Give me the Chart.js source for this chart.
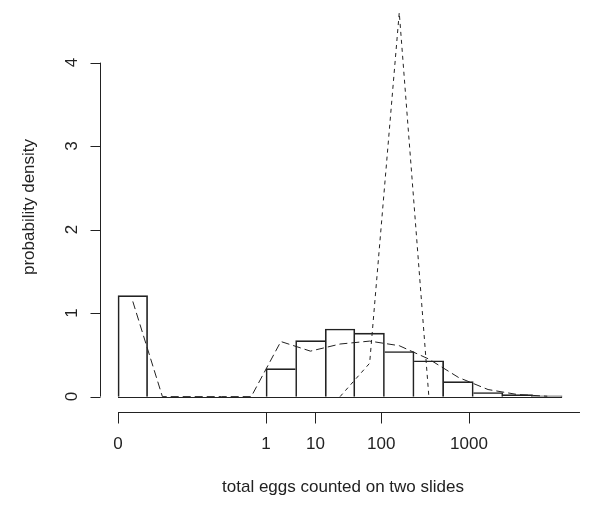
<!DOCTYPE html>
<html>
<head>
<meta charset="utf-8">
<script src="https://cdn.jsdelivr.net/npm/chart.js@4.4.1/dist/chart.umd.min.js"></script>
<style>
  html, body { margin: 0; padding: 0; background: #fff; }
  canvas { display: block; }
</style>
</head>
<body>
<canvas id="eggChart" width="600" height="510"></canvas>
<script>
// x positions are on the transformed scale count^(1/8)
const binStart = [0, 0.2, 0.4, 0.6, 0.8, 1.0, 1.2, 1.4, 1.6, 1.8, 2.0, 2.2, 2.4, 2.6, 2.8];
const binMid = [0.1, 0.3, 0.5, 0.7, 0.9, 1.1, 1.3, 1.5, 1.7, 1.9, 2.1, 2.3, 2.5, 2.7, 2.9];
const binWidth = 0.2;
const density = [1.21, 0, 0, 0, 0, 0.335, 0.67, 0.81, 0.76, 0.54, 0.43, 0.18, 0.05, 0.025, 0.01];

// long dashed curve, evaluated at the bin mids
const longDash = [1.14, 0, 0, 0, 0, 0.66, 0.545, 0.63, 0.665, 0.61, 0.45, 0.23, 0.085, 0.025, 0.005];

// short dashed spike
const shortX = [1.5, 1.7, 1.9, 2.1];
const shortY = [0, 0.40, 4.6, 0];

// axes
const xTickCounts = [0, 1, 10, 100, 1000];
const xAxisEndCount = 9000;
const yTicks = [0, 1, 2, 3, 4];
const xTitle = 'total eggs counted on two slides';
const yTitle = 'probability density';

const ink = '#222';
const fontFamily = '"Liberation Sans", Arial, Helvetica, sans-serif';

function toX(count) {
    return Math.pow(count, 1 / 8);
}

// R style axes, drawn off the chart area like base graphics
const rAxes = {
    id: 'rAxes',
    beforeDatasetsDraw(chart) {
        const { ctx, scales: { x, y } } = chart;
        // histogram baseline (zero-height bins are drawn as a line)
        ctx.save();
        ctx.strokeStyle = ink;
        ctx.lineWidth = 1;
        ctx.beginPath();
        const y0 = Math.round(y.getPixelForValue(0)) + 0.5;
        ctx.moveTo(x.getPixelForValue(binStart[0]), y0);
        ctx.lineTo(x.getPixelForValue(binStart[binStart.length - 1] + binWidth), y0);
        ctx.stroke();
        ctx.restore();
    },
    afterDraw(chart) {
        const { ctx, chartArea, scales: { x, y } } = chart;
        ctx.save();
        ctx.strokeStyle = ink;
        ctx.fillStyle = ink;
        ctx.lineWidth = 1;
        ctx.font = '17px ' + fontFamily;

        // y axis
        const ax = Math.round(chartArea.left) + 0.5;
        ctx.beginPath();
        ctx.moveTo(ax, y.getPixelForValue(yTicks[0]));
        ctx.lineTo(ax, y.getPixelForValue(yTicks[yTicks.length - 1]));
        yTicks.forEach(t => {
            const py = Math.round(y.getPixelForValue(t)) + 0.5;
            ctx.moveTo(ax, py);
            ctx.lineTo(ax - 10, py);
        });
        ctx.stroke();
        ctx.textAlign = 'center';
        ctx.textBaseline = 'middle';
        yTicks.forEach(t => {
            ctx.save();
            ctx.translate(ax - 29, y.getPixelForValue(t));
            ctx.rotate(-Math.PI / 2);
            ctx.fillText(String(t), 0, 1);
            ctx.restore();
        });
        ctx.save();
        ctx.translate(29, (chartArea.top + chartArea.bottom) / 2 + 1);
        ctx.rotate(-Math.PI / 2);
        ctx.fillText(yTitle, 0, 0);
        ctx.restore();

        // x axis
        const ay = Math.round(chartArea.bottom) + 0.5;
        ctx.beginPath();
        ctx.moveTo(x.getPixelForValue(toX(xTickCounts[0])), ay);
        ctx.lineTo(x.getPixelForValue(toX(xAxisEndCount)), ay);
        xTickCounts.forEach(c => {
            const px = Math.round(x.getPixelForValue(toX(c))) + 0.5;
            ctx.moveTo(px, ay);
            ctx.lineTo(px, ay + 11);
        });
        ctx.stroke();
        xTickCounts.forEach(c => {
            ctx.fillText(String(c), x.getPixelForValue(toX(c)), ay + 32);
        });
        ctx.fillText(xTitle, (chartArea.left + chartArea.right) / 2, ay + 75);
        ctx.restore();
    }
};

const ctx = document.getElementById('eggChart').getContext('2d');
const eggChart = new Chart(ctx, {
    type: 'bar',
    data: {
        datasets: [{
            type: 'bar',
            label: 'histogram',
            data: binMid.map((m, i) => ({ x: m, y: density[i] })),
            backgroundColor: 'rgba(0,0,0,0)',
            borderColor: ink,
            // share the edge between neighbouring bars so it stays 1px
            borderWidth: (c) => {
                const i = c.dataIndex;
                const h = density[i];
                const prev = i > 0 ? density[i - 1] : 0;
                const next = i < density.length - 1 ? density[i + 1] : 0;
                return {
                    top: 1,
                    bottom: 0,
                    left: (prev > 0 && prev >= h) ? 0 : 1,
                    right: next > h ? 0 : 1
                };
            },
            barPercentage: 1,
            categoryPercentage: 1,
            order: 3
        }, {
            type: 'line',
            label: 'long dash',
            data: binMid.map((m, i) => ({ x: m, y: longDash[i] })),
            borderColor: ink,
            borderWidth: 1,
            borderDash: [8, 4],
            pointRadius: 0,
            tension: 0,
            fill: false,
            order: 2
        }, {
            type: 'line',
            label: 'short dash',
            data: shortX.map((v, i) => ({ x: v, y: shortY[i] })),
            borderColor: ink,
            borderWidth: 1,
            borderDash: [4, 4],
            pointRadius: 0,
            tension: 0,
            fill: false,
            order: 1
        }]
    },
    options: {
        responsive: false,
        animation: false,
        layout: {
            padding: { left: 100, right: 14, top: 0, bottom: 98 }
        },
        plugins: {
            legend: { display: false },
            tooltip: { enabled: false }
        },
        scales: {
            x: {
                type: 'linear',
                offset: false,
                min: -0.1216,
                max: 3.1616,
                display: false
            },
            y: {
                type: 'linear',
                min: -0.184,
                max: 4.75,
                display: false
            }
        }
    },
    plugins: [rAxes]
});
</script>
</body>
</html>
